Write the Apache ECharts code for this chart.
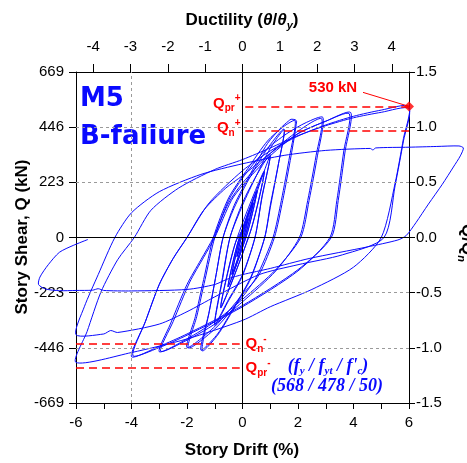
<!DOCTYPE html>
<html>
<head>
<meta charset="utf-8">
<script src="https://cdn.jsdelivr.net/npm/echarts@6/dist/echarts.min.js"></script>
<style>
  html, body { margin: 0; padding: 0; background: #fff; }
  #chart { width: 467px; height: 463px; }
</style>
</head>
<body>
<div id="chart"></div>
<script>
// Axis settings
const driftRange = [-6, 6];
const shearRange = [-669, 669];
const shearStep = 223;
const ratioRange = [-1.5, 1.5];
const yieldDrift = 1.345;          // drift (%) at yield, for the ductility axis

// Reference strengths (kN)
const qnPos = 430, qnNeg = -430;
const qprPos = 530, qprNeg = -528;
const peakPoint = [6, 530];

// Hysteresis record, [drift %, shear kN], in loading order
const cyclesElastic = [
  [0,0],[0.2,72],[0.06,8],[-0.2,-76],[-0.06,-8],[0.2,74],[0.06,8],[-0.2,-78],[-0.05,-5],
  [0.38,138],[0.12,15],[-0.38,-148],[-0.12,-15],[0.38,140],[0.12,14],[-0.38,-150],[-0.1,-8],
  [0.52,186],[0.18,20],[-0.52,-198],[-0.16,-18],[0.52,188],[0.17,18],[-0.52,-200],[-0.14,-10],
  [0.78,265],[0.32,35],[-0.78,-282],[-0.28,-30],[0.78,268],[0.3,30],[-0.78,-285],[-0.25,-20]
];
const cycles1pct = [
  [0.2,70],[0.6,210],[1.0,330],[0.7,160],[0.45,0],[0,-150],[-0.5,-250],[-1.0,-350],
  [-0.75,-180],[-0.45,0],[0,140],[0.5,250],[1.0,335],[0.7,165],[0.45,0],[0,-155],
  [-0.5,-255],[-1.0,-355],[-0.72,-170],[-0.45,0]
];
const cycles15pct = [
  [0,130],[0.5,250],[1.0,360],[1.5,435],[1.3,300],[1.0,130],[0.8,0],[0.3,-160],[-0.3,-280],
  [-0.9,-390],[-1.5,-455],[-1.2,-300],[-0.95,-150],[-0.7,0],[-0.3,120],[0.3,250],[0.9,360],
  [1.5,438],[1.3,300],[1.0,120],[0.8,0],[0.3,-165],[-0.3,-285],[-0.9,-395],[-1.45,-458],
  [-1.2,-300],[-0.95,-150],[-0.7,0]
];
const cycles2pct = [
  [-0.3,130],[0.3,260],[0.9,380],[1.4,445],[1.65,470],[1.75,478],[1.9,476],[1.95,470],
  [1.75,330],[1.45,150],[1.15,0],[0.6,-150],[0,-230],[-1.0,-360],[-2.0,-445],[-1.7,-320],
  [-1.4,-170],[-1.05,0],[-0.5,160],[0.2,280],[0.9,390],[1.5,450],[1.9,472],[1.7,330],
  [1.4,150],[1.1,0],[0.5,-160],[0,-240],[-1.0,-370],[-1.95,-447],[-1.65,-320],[-1.35,-170],[-1.0,0]
];
const cycles3pct = [
  [-0.5,150],[0,240],[0.8,350],[1.6,420],[2.3,465],[2.9,485],[2.7,330],[2.4,150],[2.1,0],
  [1.2,-130],[0,-250],[-1,-340],[-2,-410],[-3,-462],[-2.6,-350],[-2.0,-190],[-1.5,-90],
  [-1.05,0],[-0.5,140],[0,220],[1,340],[2,430],[2.85,480],[2.65,330],[2.35,150],[2.05,0],
  [1.2,-135],[0,-260],[-1,-350],[-2,-415],[-2.95,-460],[-2.5,-340],[-1.9,-180],[-1.4,-80],[-1.0,0]
];
const cycles4pct = [
  [-0.4,150],[0,210],[1,330],[2,420],[3,470],[3.9,505],[3.7,350],[3.45,150],[3.2,0],
  [2,-130],[0,-275],[-2,-390],[-3,-440],[-4,-482],[-3.5,-340],[-3.0,-190],[-2.5,-85],
  [-2.0,0],[-1.4,110],[-0.6,200],[0,250],[1,340],[2,420],[3,470],[3.85,500],[3.65,350],
  [3.4,150],[3.15,0],[2,-135],[0,-280],[-2,-395],[-3,-445],[-3.95,-478],[-3.5,-340],
  [-3.0,-190],[-2.5,-85],[-2.0,0]
];
const cycles6pct = [
  [-1.2,140],[0,270],[1,350],[2,410],[3,455],[4,490],[5,515],[6,530],[5.8,400],[5.5,220],
  [5.0,0],[4,-120],[2.5,-210],[1,-280],[0,-335],[-2,-410],[-4,-465],[-6,-505],[-5.6,-380],
  [-5.1,-220],[-4.5,-90],[-3.9,0],[-3.3,110],[-2.3,200],[-1,275],[0,315],[1,362],[2,412],
  [3,452],[4,484],[5,506],[6,521],[5.8,390],[5.5,210],[5.1,0],[3.6,-70],[2,-110],[0.6,-150],
  [-1,-240],[-2,-300],[-3,-350],[-4.5,-384],[-4.75,-376],[-5,-390],[-6,-393]
];
const finalExcursion = [
  [-5.7,-280],[-5.2,-150],[-4.6,0],[-4,100],[-3,185],[-1.5,255],[0,298],[1.5,332],[3,352],
  [4.6,360],[4.7,354],[4.8,362],[6,365],[7,368],[7.8,370],[7.96,362],[7.85,330],[7.6,285],
  [7.2,215],[6.7,135],[6.25,60],[5.9,8],[5.6,-10],[4.5,-38],[2.4,-85],[1,-125],[0,-150],
  [-0.5,-166],[-1,-190],[-2,-210],[-4,-216],[-5.0,-214],[-5.2,-207],[-5.4,-213],[-6,-214],
  [-6.6,-215],[-7.1,-208],[-7.35,-190],[-7.3,-160],[-7.0,-110],[-6.6,-60],[-6.1,-32],[-5.57,-8]
];

const hysteresis = [].concat(cyclesElastic, cycles1pct, cycles15pct, cycles2pct,
                             cycles3pct, cycles4pct, cycles6pct, finalExcursion);
const lastStep = hysteresis.slice(-2);

const FONT = 'Liberation Sans, Arial, sans-serif';
const SERIF = 'Liberation Serif, Times New Roman, serif';
const BLUE = '#0a0aff';
const RED = '#ff0000';

const chart = echarts.init(document.getElementById('chart'), null, { renderer: 'canvas' });

const gray = { color: '#9a9a9a', type: [3, 3], width: 1 };
const black = { color: '#000', type: 'solid', width: 1 };
const redDash = { color: RED, type: [8, 5], width: 1.6 };

const option = {
  animation: false,
  backgroundColor: '#fff',
  grid: { left: 76, right: 58, top: 72, bottom: 60 },
  xAxis: [
    {
      type: 'value', position: 'bottom', min: driftRange[0], max: driftRange[1], interval: 1,
      axisLine: { onZero: false, lineStyle: { color: '#000', width: 1 } },
      axisTick: { length: 6, lineStyle: { color: '#000' } },
      axisLabel: { formatter: v => (v % 2 === 0 ? String(v) : ''), color: '#000',
                   fontSize: 15, fontFamily: FONT, margin: 12 },
      splitLine: { show: false }
    },
    {
      type: 'value', position: 'top',
      min: driftRange[0] / yieldDrift, max: driftRange[1] / yieldDrift, splitNumber: 9,
      axisLine: { onZero: false, lineStyle: { color: '#000', width: 1 } },
      axisTick: { length: 8, lineStyle: { color: '#000' } },
      axisLabel: { formatter: v => (Math.abs(v - Math.round(v)) < 1e-6 ? String(Math.round(v)) : ''),
                   color: '#000', fontSize: 15, fontFamily: FONT, margin: 18,
                   showMinLabel: false, showMaxLabel: false },
      splitLine: { show: false }
    }
  ],
  yAxis: [
    {
      type: 'value', position: 'left', min: shearRange[0], max: shearRange[1], interval: shearStep,
      axisLine: { onZero: false, lineStyle: { color: '#000', width: 1 } },
      axisTick: { length: 7, lineStyle: { color: '#000' } },
      axisLabel: { color: '#000', fontSize: 15, fontFamily: FONT, margin: 12 },
      splitLine: { show: false }
    },
    {
      type: 'value', position: 'right', min: ratioRange[0], max: ratioRange[1], interval: 0.5,
      axisLine: { onZero: false, lineStyle: { color: '#000', width: 1 } },
      axisTick: { length: 6, lineStyle: { color: '#000' } },
      axisLabel: { formatter: v => v.toFixed(1), color: '#000', fontSize: 15, fontFamily: FONT, margin: 7 },
      splitLine: { show: false }
    }
  ],
  series: [
    {
      // reference grid: dashed guides plus the zero axes
      type: 'line', data: [], xAxisIndex: 0, yAxisIndex: 0, z: 1,
      markLine: {
        silent: true, symbol: 'none', label: { show: false }, animation: false,
        data: [
          { yAxis: 446, lineStyle: gray }, { yAxis: 223, lineStyle: gray },
          { yAxis: -223, lineStyle: gray }, { yAxis: -446, lineStyle: gray },
          { xAxis: -4, lineStyle: gray },
          { yAxis: 0, lineStyle: black }, { xAxis: 0, lineStyle: black }
        ]
      }
    },
    {
      // full load path as one polyline; the record runs past the axis limits
      name: 'Hysteresis', type: 'custom', coordinateSystem: 'cartesian2d',
      xAxisIndex: 0, yAxisIndex: 0, data: [[0, 0]], clip: false, silent: true, z: 3,
      renderItem: (params, api) => ({
        type: 'polyline',
        shape: { points: hysteresis.map(p => api.coord(p)), smooth: 0.25 },
        style: { stroke: BLUE, fill: null, lineWidth: 1 }
      })
    },
    {
      // arrowhead on the last recorded step
      type: 'line', data: [], xAxisIndex: 0, yAxisIndex: 0, z: 3,
      markLine: {
        silent: true, symbol: ['none', 'arrow'], symbolSize: 7, label: { show: false },
        lineStyle: { color: BLUE, width: 1, type: 'solid' },
        data: [[{ coord: lastStep[0] }, { coord: lastStep[1] }]]
      }
    },
    {
      // nominal and probable strength levels
      type: 'line', data: [], xAxisIndex: 0, yAxisIndex: 0, z: 4,
      markLine: {
        silent: true, symbol: 'none', label: { show: false }, animation: false,
        lineStyle: redDash,
        data: [
          [{ coord: [0.1, qprPos] }, { coord: [driftRange[1], qprPos] }],
          [{ coord: [0.1, qnPos] }, { coord: [driftRange[1], qnPos] }],
          [{ coord: [driftRange[0], qnNeg] }, { coord: [-0.1, qnNeg] }],
          [{ coord: [driftRange[0], qprNeg] }, { coord: [-0.1, qprNeg] }]
        ]
      }
    },
    {
      name: 'Peak', type: 'scatter', data: [peakPoint], xAxisIndex: 0, yAxisIndex: 0,
      symbol: 'diamond', symbolSize: 10, itemStyle: { color: RED }, z: 6, clip: false
    }
  ]
};
chart.setOption(option);

// Text annotations, anchored to the data where they label a level or point
const px = (x, y) => chart.convertToPixel({ xAxisIndex: 0, yAxisIndex: 0 }, [x, y]);
const pPeak = px(peakPoint[0], peakPoint[1]);
const pQprP = px(0, qprPos), pQnP = px(0, qnPos), pQnN = px(0, qnNeg), pQprN = px(0, qprNeg);

const qRich = {
  q: { fontSize: 15, fontWeight: 'bold', fontFamily: FONT, fill: RED, color: RED, lineHeight: 20, verticalAlign: 'middle' },
  sub: { fontSize: 10, fontWeight: 'bold', fontFamily: FONT, fill: RED, color: RED, lineHeight: 10, verticalAlign: 'bottom' },
  sup: { fontSize: 10, fontWeight: 'bold', fontFamily: FONT, fill: RED, color: RED, lineHeight: 10, verticalAlign: 'top' }
};
const qLabel = (txt, x, y, align) => ({
  type: 'text', x, y, z: 10,
  style: { text: txt, rich: qRich, align, verticalAlign: 'middle' }
});

const blueRich = {
  t: { fontSize: 18, fontWeight: 'bold', fontStyle: 'italic', fontFamily: SERIF, fill: BLUE, color: BLUE, lineHeight: 22, verticalAlign: 'middle' },
  s: { fontSize: 11, fontWeight: 'bold', fontStyle: 'italic', fontFamily: SERIF, fill: BLUE, color: BLUE, lineHeight: 10, verticalAlign: 'bottom' }
};
const nameRich = {
  n: { fontSize: 17, fontWeight: 'bold', fontFamily: FONT, fill: '#000', color: '#000', lineHeight: 22, verticalAlign: 'middle' },
  i: { fontSize: 17, fontWeight: 'bold', fontStyle: 'italic', fontFamily: FONT, fill: '#000', color: '#000', lineHeight: 22, verticalAlign: 'middle' },
  s: { fontSize: 11, fontWeight: 'bold', fontStyle: 'italic', fontFamily: FONT, fill: '#000', color: '#000', lineHeight: 10, verticalAlign: 'bottom' }
};

chart.setOption({
  graphic: [
    // axis titles
    { type: 'text', x: 242, y: 20, style: { text: '{n|Ductility (}{i|θ}{n|/}{i|θ}{s|y}{n|)}', rich: nameRich, align: 'center', verticalAlign: 'middle' } },
    { type: 'text', x: 242, y: 450, style: { text: 'Story Drift (%)', font: 'bold 17px ' + FONT, fill: '#000', align: 'center', verticalAlign: 'middle' } },
    { type: 'text', x: 22, y: 237, rotation: Math.PI / 2, style: { text: 'Story Shear, Q (kN)', font: 'bold 17px ' + FONT, fill: '#000', align: 'center', verticalAlign: 'middle' } },
    { type: 'text', x: 467, y: 243, rotation: -Math.PI / 2, style: { text: '{n|Q/Q}{s|n}', rich: nameRich, align: 'center', verticalAlign: 'middle' } },
    // specimen title
    { type: 'text', x: 80, y: 99, style: { text: 'M5', font: 'bold 26px DejaVu Sans', fill: BLUE, align: 'left', verticalAlign: 'middle' } },
    { type: 'text', x: 80, y: 137, style: { text: 'B-faliure', font: 'bold 26px DejaVu Sans', fill: BLUE, align: 'left', verticalAlign: 'middle' } },
    // material strengths
    { type: 'text', x: 328, y: 366, style: { text: '{t|(}{t|f}{s|y}{t| / f}{s|yt}{t| / f\'}{s|c}{t|)}', rich: blueRich, align: 'center', verticalAlign: 'middle' } },
    { type: 'text', x: 327, y: 386, style: { text: '(568 / 478 / 50)', font: 'italic bold 18px ' + SERIF, fill: BLUE, align: 'center', verticalAlign: 'middle' } },
    // strength level labels
    qLabel('{q|Q}{sub|pr}{sup|+}', pQprP[0] - 2, pQprP[1] - 3, 'right'),
    qLabel('{q|Q}{sub|n}{sup|+}', pQnP[0] - 2, pQnP[1] - 3, 'right'),
    qLabel('{q|Q}{sub|n}{sup|-}', pQnN[0] + 3, pQnN[1], 'left'),
    qLabel('{q|Q}{sub|pr}{sup|-}', pQprN[0] + 3, pQprN[1], 'left'),
    // peak callout
    { type: 'text', x: pPeak[0] - 76, y: pPeak[1] - 19, z: 10, style: { text: '530 kN', font: 'bold 15px ' + FONT, fill: RED, align: 'center', verticalAlign: 'middle' } },
    { type: 'line', z: 10, shape: { x1: pPeak[0] - 46, y1: pPeak[1] - 14, x2: pPeak[0], y2: pPeak[1] }, style: { stroke: RED, lineWidth: 1 } }
  ]
});
</script>
</body>
</html>
